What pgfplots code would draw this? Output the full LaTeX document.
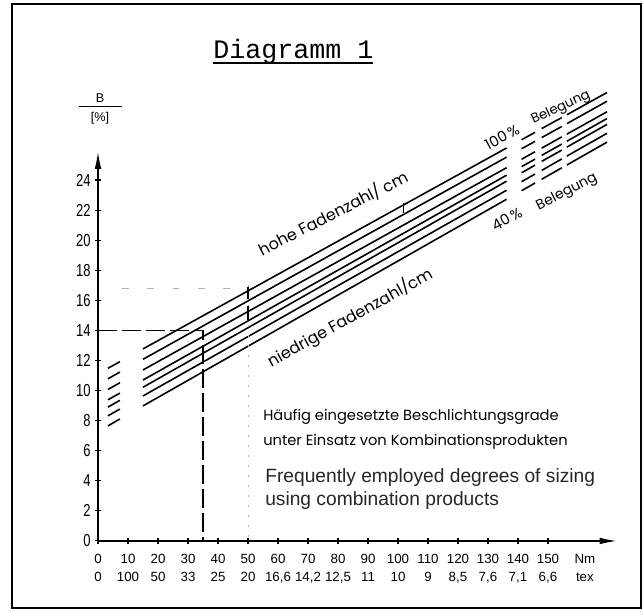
\documentclass[border=0pt]{standalone}
\usepackage{pgfplots}
\pgfplotsset{compat=1.18}
\usepackage{fontspec}
\setmainfont{Liberation Sans}
\newfontfamily\handfont{Poppins}
\newfontfamily\narrowfont[FakeStretch=0.75]{Liberation Sans}
\newfontfamily\titlefont{Liberation Mono}
\usetikzlibrary{arrows.meta}

\begin{document}
\begin{tikzpicture}
\begin{axis}[
    scale only axis,
    width=389.25pt, height=292.15pt,
    xmin=0, xmax=173, ymin=0, ymax=25.9,
    axis lines=left,
    axis line style={line width=1.2pt, -{Latex[length=13pt,width=5pt]}},
    clip=false,
    xtick={0,10,...,150},
    xticklabels={{0\\0},{10\\100},{20\\50},{30\\33},{40\\25},{50\\20},{60\\16,6},{70\\14,2},{80\\12,5},{90\\11},{100\\10},{110\\9},{120\\8,5},{130\\7,6},{140\\7,1},{150\\6,6}},
    extra x ticks={162.3},
    extra x tick labels={{Nm\\tex}},
    extra x tick style={tick style={draw=none}},
    ytick={0,2,...,24},
    tick align=center,
    major tick length=4pt,
    tick style={line width=0.8pt, black},
    xticklabel style={font=\fontsize{10}{13.5}\selectfont, align=center, yshift=-4.5pt},
    yticklabel style={font=\narrowfont\fontsize{13}{15}\selectfont},
    /pgf/number format/assume math mode=true,
]
% picture size and frame
\path (axis cs:-32.67,-4.72) rectangle (axis cs:181.67,35.97);
\draw[line width=1.6pt] (axis cs:-28.67,-4.45) rectangle (axis cs:181,35.70);

% 100 % ... 40 % Belegung
\addplot[black, line width=1.2pt, unbounded coords=jump] coordinates {
(3.3,11.48) (7.3,11.92) (10,nan) (15,12.77) (136.2,26.13) (138,nan)
(141.2,26.68) (145.7,27.17) (147,nan) (147.9,27.42) (154.6,28.15) (155.5,nan)
(156.3,28.34) (169.7,29.82)};
\addplot[black, line width=1.2pt, unbounded coords=jump] coordinates {
(3.3,10.78) (7.3,11.23) (10,nan) (15,12.08) (136.2,25.52) (138,nan)
(141.2,26.08) (145.7,26.57) (147,nan) (147.9,26.82) (154.6,27.56) (155.5,nan)
(156.3,27.75) (169.7,29.24)};
\addplot[black, line width=1.2pt, unbounded coords=jump] coordinates {
(3.3,10.07) (7.3,10.52) (10,nan) (15,11.37) (136.2,24.82) (138,nan)
(141.2,25.38) (145.7,25.88) (147,nan) (147.9,26.12) (154.6,26.87) (155.5,nan)
(156.3,27.05) (169.7,28.54)};
\addplot[black, line width=1.2pt, unbounded coords=jump] coordinates {
(3.3,9.39) (7.3,9.83) (10,nan) (15,10.70) (136.2,24.32) (138,nan)
(141.2,24.89) (145.7,25.39) (147,nan) (147.9,25.64) (154.6,26.39) (155.5,nan)
(156.3,26.58) (169.7,28.09)};
\addplot[black, line width=1.2pt, unbounded coords=jump] coordinates {
(3.3,8.90) (7.3,9.35) (10,nan) (15,10.22) (136.2,23.92) (138,nan)
(141.2,24.48) (145.7,24.99) (147,nan) (147.9,25.24) (154.6,25.99) (155.5,nan)
(156.3,26.19) (169.7,27.70)};
\addplot[black, line width=1.2pt, unbounded coords=jump] coordinates {
(3.3,8.32) (7.3,8.77) (10,nan) (15,9.64) (136.2,23.32) (138,nan)
(141.2,23.89) (145.7,24.40) (147,nan) (147.9,24.64) (154.6,25.40) (155.5,nan)
(156.3,25.59) (169.7,27.11)};
\addplot[black, line width=1.2pt, unbounded coords=jump] coordinates {
(3.3,7.65) (7.3,8.11) (10,nan) (15,8.98) (136.2,22.72) (138,nan)
(141.2,23.29) (145.7,23.80) (147,nan) (147.9,24.05) (154.6,24.81) (155.5,nan)
(156.3,25.00) (169.7,26.52)};

% reading example: 35 Nm -> 14 %
\addplot[black, line width=1.1pt, dash pattern=on 14pt off 4pt] coordinates {(0,14) (35,14) (35,0)};

% faint pencil marks
\addplot[gray!60, line width=0.7pt, dash pattern=on 1.5pt off 6pt] coordinates {(50,17) (50,0)};
\addplot[gray!60, line width=0.8pt, dash pattern=on 5pt off 14pt] coordinates {(8,16.8) (47,16.8)};
\addplot[black, line width=0.8pt] coordinates {(50,16.1) (50,16.9)};
\addplot[black, line width=0.8pt] coordinates {(50,14.7) (50,15.6)};
\addplot[black, line width=0.6pt] coordinates {(101.7,21.8) (101.7,22.5)};

% y label B / [%]
\node[font=\fontsize{9.5}{11}\selectfont] at (axis cs:0.67,29.45) {B};
\draw[line width=0.8pt] (axis cs:-6.33,28.86) -- (axis cs:8,28.86);
\node[font=\fontsize{9.5}{11}\selectfont] at (axis cs:0.67,28.12) {[\%]};

% title
\node[anchor=base west, inner sep=0pt, font=\titlefont\fontsize{20}{24}\selectfont] at (axis cs:38.33,32.11) {Diagramm 1};
\draw[line width=0.9pt] (axis cs:38.33,31.78) -- (axis cs:91.67,31.78);

% line labels
\node[rotate=27, font=\handfont\fontsize{12}{14}\selectfont] at (axis cs:78.3,21.8) {hohe Fadenzahl/ cm};
\node[rotate=29, font=\handfont\fontsize{12}{14}\selectfont] at (axis cs:84,14.83) {niedrige Fadenzahl/cm};
\node[rotate=28, font=\handfont\fontsize{11}{13}\selectfont] at (axis cs:134.7,26.86) {100\,\%};
\node[rotate=25, font=\handfont\fontsize{10}{12}\selectfont] at (axis cs:154.3,28.8) {Belegung};
\node[rotate=28, font=\handfont\fontsize{11}{13}\selectfont] at (axis cs:136.3,21.4) {40\,\%};
\node[rotate=27, font=\handfont\fontsize{10.5}{12}\selectfont] at (axis cs:156.3,23.2) {Belegung};

% caption texts
\node[anchor=base west, inner sep=0pt, font=\handfont\fontsize{11}{13}\selectfont] at (axis cs:55,7.98) {Häufig eingesetzte Beschlichtungsgrade};
\node[anchor=base west, inner sep=0pt, font=\handfont\fontsize{11}{13}\selectfont] at (axis cs:55,6.32) {unter Einsatz von Kombinationsprodukten};
\node[anchor=base west, inner sep=0pt, font=\fontsize{14.4}{17}\selectfont, text=black!85] at (axis cs:55.67,3.92) {Frequently employed degrees of sizing};
\node[anchor=base west, inner sep=0pt, font=\fontsize{14.4}{17}\selectfont, text=black!85] at (axis cs:55.67,2.39) {using combination products};
\end{axis}
\end{tikzpicture}
\end{document}
